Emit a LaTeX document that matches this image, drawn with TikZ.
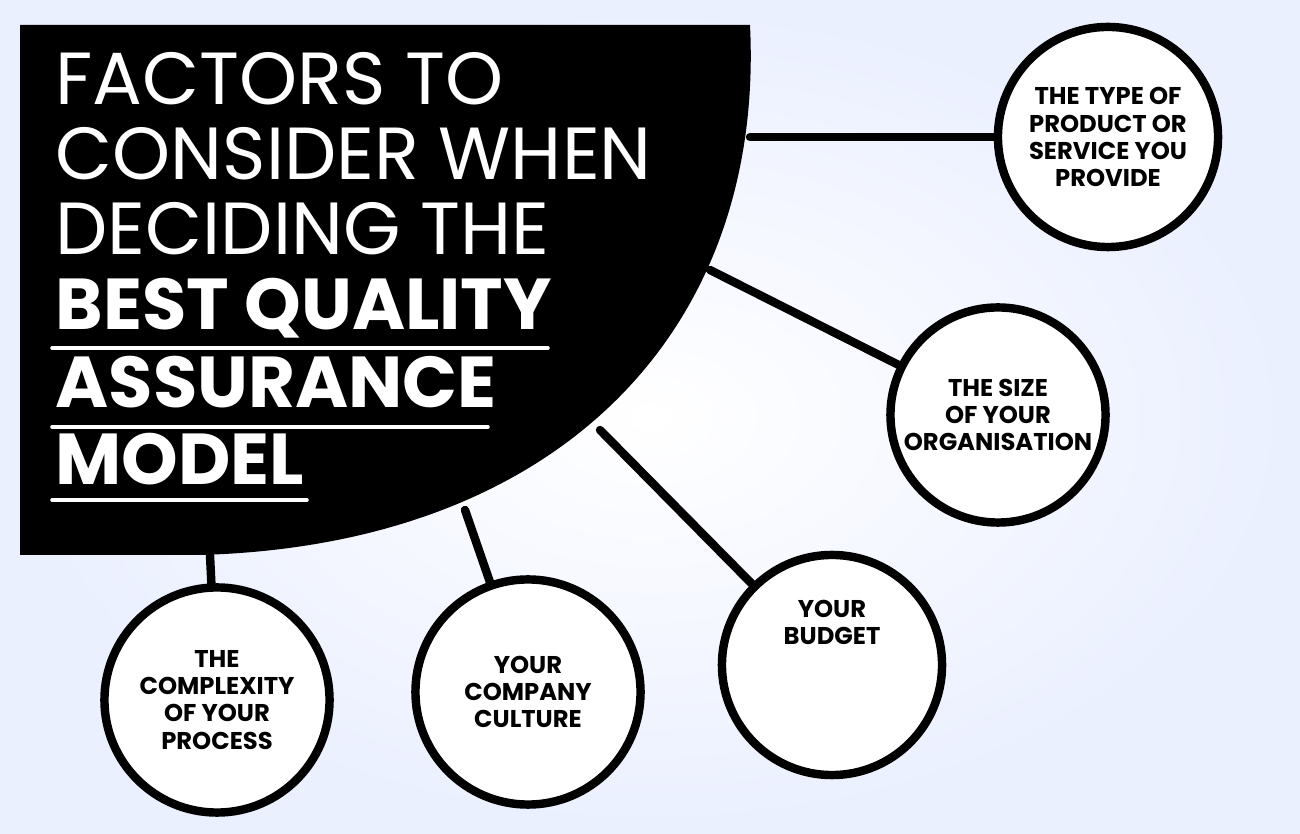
\documentclass[tikz,border=0pt]{standalone}
\usepackage{fontspec}
\setmainfont{Poppins}
\begin{document}
\begin{tikzpicture}[x=0.01cm,y=-0.01cm,line cap=round,
    factor/.style={circle, draw=black, line width=2.4pt, fill=white, inner sep=0pt,
      minimum size=#1, align=center, font=\bfseries\fontsize{6.9}{7.7}\selectfont},
    link/.style={line width=2.4pt},
    title/.style={anchor=base west, text=white, inner sep=0pt, font=\fontsize{21}{24}\selectfont},
    btitle/.style={title, font=\bfseries\fontsize{20.5}{24}\selectfont}]
    % background
    \shade[inner color=white, outer color=cyan!25!blue!8] (0,0) rectangle (1300,834);
    \useasboundingbox (0,0) rectangle (1300,834);
    % black title block
    \fill[black] (20,25) -- (750,25) .. controls (765,330) and (560,545) .. (200,555) -- (20,555) -- cycle;
    \node[title] (t1) at (55,105) {FACTORS TO};
    \node[title] (t2) at (55,180) {CONSIDER WHEN};
    \node[title] (t3) at (55,255) {DECIDING THE};
    \node[btitle] (t4) at (55,330) {BEST QUALITY};
    \node[btitle] (t5) at (55,408) {ASSURANCE};
    \node[btitle] (t6) at (55,485) {MODEL};
    \draw[white, line width=1pt] (52,348) -- (548,348);
    \draw[white, line width=1pt] (52,427) -- (488,427);
    \draw[white, line width=1pt] (52,500) -- (307,500);
    % connector ends on the block
    \coordinate (a1) at (750,137);
    \coordinate (a2) at (710,270);
    \coordinate (a3) at (600,430);
    \coordinate (a4) at (465,510);
    \coordinate (a5) at (210,555);
    % factors
    \node[factor=2.2cm] (type) at (1108,137) {THE TYPE OF\\PRODUCT OR\\SERVICE YOU\\PROVIDE};
    \node[factor=2.15cm] (size) at (998,415) {THE SIZE\\OF YOUR\\ORGANISATION};
    \node[factor=2.2cm] (budget) at (832,665) {YOUR\\BUDGET\\[2.4em]};
    \node[factor=2.25cm] (culture) at (528,692) {YOUR\\COMPANY\\CULTURE};
    \node[factor=2.25cm] (process) at (217,700) {THE\\COMPLEXITY\\OF YOUR\\PROCESS};
    \draw[link] (a1) -- (type);
    \draw[link] (a2) -- (size);
    \draw[link] (a3) -- (budget);
    \draw[link] (a4) -- (culture);
    \draw[link] (a5) -- (process);
\end{tikzpicture}
\end{document}
